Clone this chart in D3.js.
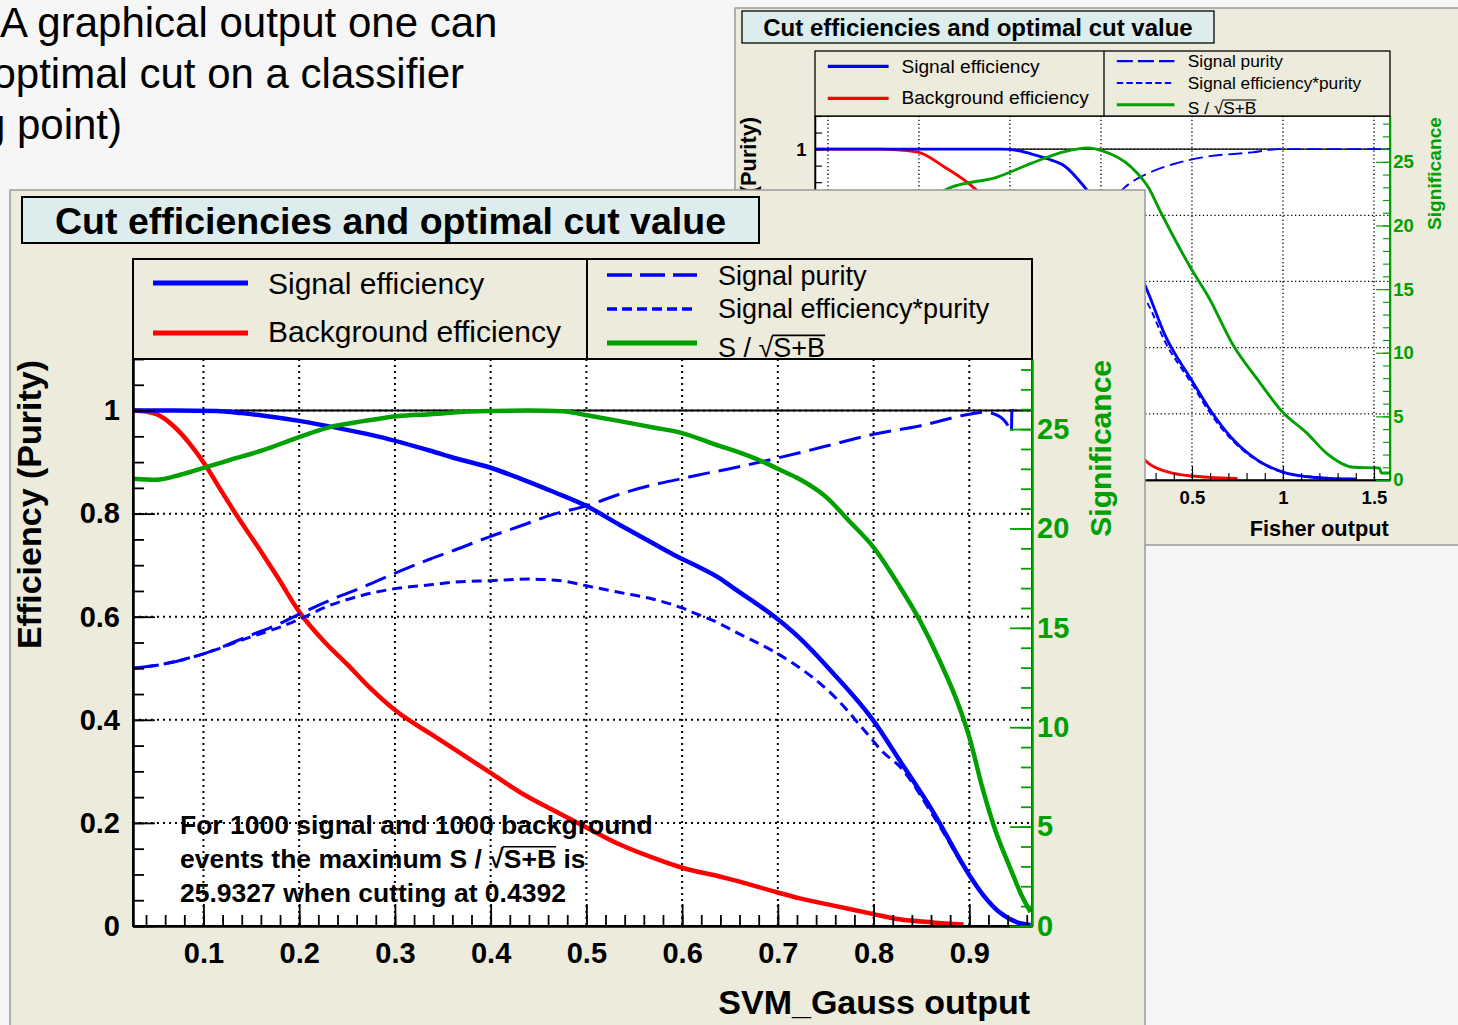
<!DOCTYPE html>
<html>
<head>
<meta charset="utf-8">
<script src="https://cdn.jsdelivr.net/npm/d3@7"></script>
<style>
    html, body { margin: 0; padding: 0; background: #f6f6f6; overflow: hidden; }
    svg { display: block; font-family: "Liberation Sans", Arial, Helvetica, sans-serif; }
</style>
</head>
<body>
<svg id="chart" width="1458" height="1025"></svg>
<script>
// ---- data ----

// slide text, partly cut off on the left
var slideLines = ["A graphical output one can", "optimal cut on a classifier", "(working point)"];

// tick labels
var svmTicks = [0.1, 0.2, 0.3, 0.4, 0.5, 0.6, 0.7, 0.8, 0.9];
var fisherTicks = [-1.5, -1, -0.5, 0, 0.5, 1, 1.5];
var effTicks = [0, 0.2, 0.4, 0.6, 0.8, 1];
var sigTicks = [0, 5, 10, 15, 20, 25];

// front canvas: SVM_Gauss output, [cut, value]
var svmSigEff = [[0.0264, 1.0], [0.07, 1.0], [0.114, 0.999], [0.14, 0.995], [0.163, 0.99], [0.2, 0.98], [0.246, 0.964],
    [0.284, 0.949], [0.337, 0.922], [0.362, 0.908], [0.4, 0.889], [0.431, 0.868], [0.466, 0.842], [0.5, 0.815],
    [0.535, 0.778], [0.57, 0.742], [0.6, 0.712], [0.617, 0.697], [0.639, 0.675], [0.652, 0.658], [0.7, 0.595],
    [0.722, 0.56], [0.757, 0.492], [0.8, 0.398], [0.827, 0.322], [0.862, 0.222], [0.9, 0.099], [0.915, 0.059],
    [0.932, 0.026], [0.95, 0.007], [0.964, 0.002]];
var svmBkgEff = [[0.0264, 1.0], [0.04, 0.998], [0.051, 0.993], [0.0687, 0.97], [0.086, 0.935], [0.1035, 0.89],
    [0.117, 0.849], [0.135, 0.796], [0.156, 0.738], [0.177, 0.678], [0.201, 0.607], [0.225, 0.554], [0.25, 0.508],
    [0.274, 0.462], [0.302, 0.416], [0.337, 0.373], [0.362, 0.343], [0.4, 0.297], [0.431, 0.259], [0.466, 0.224],
    [0.5, 0.191], [0.535, 0.158], [0.57, 0.132], [0.6, 0.113], [0.639, 0.096], [0.652, 0.09], [0.7, 0.065],
    [0.722, 0.054], [0.757, 0.04], [0.8, 0.023], [0.827, 0.013], [0.862, 0.007], [0.894, 0.003]];
var svmPurity = [[0.0264, 0.5], [0.058, 0.508], [0.1, 0.528], [0.145, 0.561], [0.18, 0.587], [0.2, 0.605],
    [0.232, 0.632], [0.267, 0.658], [0.302, 0.686], [0.337, 0.712], [0.362, 0.729], [0.4, 0.756], [0.431, 0.776],
    [0.466, 0.799], [0.5, 0.815], [0.535, 0.838], [0.57, 0.856], [0.6, 0.868], [0.617, 0.875], [0.652, 0.888],
    [0.7, 0.908], [0.757, 0.934], [0.8, 0.954], [0.848, 0.97], [0.9, 0.993], [0.915, 0.997], [0.93, 0.99],
    [0.94, 0.972], [0.944, 0.958], [0.9445, 1.0], [0.951, 1.0]];
var svmEffPurity = [[0.0264, 0.5], [0.058, 0.508], [0.1, 0.528], [0.145, 0.558], [0.18, 0.58], [0.2, 0.595],
    [0.232, 0.622], [0.267, 0.642], [0.302, 0.655], [0.337, 0.662], [0.362, 0.667], [0.4, 0.67], [0.44, 0.673],
    [0.473, 0.67], [0.5, 0.66], [0.535, 0.647], [0.57, 0.634], [0.6, 0.617], [0.617, 0.604], [0.639, 0.587],
    [0.652, 0.574], [0.7, 0.528], [0.722, 0.502], [0.757, 0.449], [0.792, 0.376], [0.81, 0.337], [0.827, 0.31],
    [0.862, 0.215], [0.9, 0.098], [0.915, 0.058], [0.932, 0.025], [0.95, 0.007], [0.964, 0.002]];
// S / sqrt(S+B)
var svmSignificance = [[0.0264, 22.5], [0.051, 22.45], [0.0757, 22.7], [0.1035, 23.1], [0.128, 23.45], [0.163, 23.95],
    [0.197, 24.55], [0.232, 25.1], [0.267, 25.4], [0.302, 25.65], [0.337, 25.75], [0.386, 25.9], [0.4392, 25.93],
    [0.476, 25.9], [0.5, 25.7], [0.535, 25.4], [0.57, 25.08], [0.6, 24.8], [0.639, 24.15], [0.652, 23.95],
    [0.687, 23.3], [0.7, 23.0], [0.722, 22.5], [0.75, 21.6], [0.775, 20.35], [0.8, 19.05], [0.827, 17.1],
    [0.848, 15.4], [0.869, 13.35], [0.89, 10.95], [0.9, 9.5], [0.914, 6.9], [0.928, 4.7], [0.942, 3.0],
    [0.9555, 1.46], [0.964, 0.7]];

// back canvas: Fisher output, [cut, value]
var fisherSigEff = [[-1.571, 1.0], [-0.55, 1.0], [-0.45, 0.995], [-0.38, 0.985], [-0.29, 0.97], [-0.2, 0.949],
    [-0.09, 0.885], [0, 0.82], [0.1, 0.74], [0.2, 0.64], [0.26, 0.565], [0.35, 0.44], [0.5, 0.3], [0.59, 0.22],
    [0.73, 0.12], [0.86, 0.06], [1.0, 0.024], [1.13, 0.01], [1.25, 0.005], [1.4, 0.003]];
var fisherBkgEff = [[-1.571, 1.0], [-1.22, 1.0], [-1.1, 0.997], [-1.0, 0.99], [-0.86, 0.946], [-0.75, 0.906],
    [-0.69, 0.879], [-0.5, 0.78], [-0.3, 0.6], [-0.1, 0.38], [0.1, 0.17], [0.26, 0.051], [0.4, 0.02],
    [0.5, 0.012], [0.6, 0.008], [0.75, 0.005]];
var fisherPurity = [[-1.571, 0.5], [-1.0, 0.53], [-0.5, 0.62], [-0.2, 0.72], [0, 0.8], [0.126, 0.882],
    [0.26, 0.927], [0.4, 0.955], [0.57, 0.976], [0.83, 0.99], [0.98, 1.0], [1.588, 1.0]];
var fisherEffPurity = [[-1.571, 0.5], [-1.0, 0.53], [-0.6, 0.6], [-0.3, 0.66], [-0.1, 0.66], [0.1, 0.64],
    [0.2, 0.58], [0.26, 0.53], [0.35, 0.42], [0.5, 0.29], [0.59, 0.21], [0.73, 0.115], [0.86, 0.058],
    [1.0, 0.023], [1.2, 0.008], [1.4, 0.003]];
var fisherSignificance = [[-1.571, 17.0], [-1.2, 19.5], [-1.0, 21.5], [-0.84, 22.9], [-0.57, 23.8], [-0.38, 24.9],
    [-0.2, 25.8], [-0.07, 26.1], [0, 25.9], [0.165, 24.6], [0.26, 23.0], [0.33, 21.0], [0.5, 16.5], [0.59, 14.4],
    [0.73, 10.5], [0.86, 7.9], [1.0, 5.3], [1.13, 3.7], [1.24, 2.1], [1.39, 1.0], [1.53, 0.94], [1.54, 0.55],
    [1.588, 0.55]];

// ---- look ----
var BLUE = "#0000ff",
    RED = "#ff0000",
    GREEN = "#00a000",
    BEIGE = "#ecebdc",
    TITLEFILL = "#ddecec";

// layouts of the two ROOT canvases (front one is scale 1, back one is shrunk)
var fisherLayout = {
    id: "fisher", s: 0.64,
    canvas: [735, 8, 740, 537],
    title: [742, 11, 472, 32],
    legend: [815, 51, 575, 65],
    divider: 1104,
    plot: [815, 116, 1390, 480],
    xDomain: [-1.571, 1.588],
    xMinorStep: 0.1,
    sigMax: 28.6,
    xTicks: fisherTicks,
    xTitle: "Fisher output",
    note: false
};
var svmLayout = {
    id: "svm", s: 1,
    canvas: [10, 190, 1135, 850],
    title: [22, 197, 737, 46],
    legend: [133, 259, 899, 100],
    divider: 587,
    plot: [133, 359, 1032, 926],
    xDomain: [0.0264, 0.9655],
    xMinorStep: 0.02,
    sigMax: 28.526,
    xTicks: svmTicks,
    xTitle: "SVM_Gauss output",
    note: true
};

window.onload = function()
{
    main();
};

function main()
{
    var svg = d3.select("#chart");

    // slide text behind both canvases
    _drawSlideText(svg);

    // back canvas first so the front one covers it
    _drawCanvas(svg, fisherLayout, {
        eff: fisherSigEff, bkg: fisherBkgEff, pur: fisherPurity, effPur: fisherEffPurity, sig: fisherSignificance
    });
    _drawCanvas(svg, svmLayout, {
        eff: svmSigEff, bkg: svmBkgEff, pur: svmPurity, effPur: svmEffPurity, sig: svmSignificance
    });
}

function _drawSlideText(svg)
{
    var g = svg.append("g")
        .style("font-size", "42px")
        .attr("fill", "#000");

    g.append("text").attr("x", 0).attr("y", 37).text(slideLines[0]);
    g.append("text").attr("x", 464).attr("y", 88).attr("text-anchor", "end").text(slideLines[1]);
    g.append("text").attr("x", 122).attr("y", 139).attr("text-anchor", "end").text(slideLines[2]);
}

// list of positions every `step` between lo and hi (minor ticks)
function _steps(lo, hi, step)
{
    var out = [],
        v;
    for (v = Math.ceil(lo / step - 1e-6); v * step <= hi + 1e-9; v++)
    {
        out.push(+(v * step).toFixed(4));
    }
    return out;
}

// text with a square root whose bar covers `rad`
function _sqrtText(g, x, y, pre, rad, post, size, weight, fill)
{
    var t = g.append("text")
            .attr("x", x)
            .attr("y", y)
            .attr("fill", fill || "#000")
            .style("font-size", size + "px")
            .style("font-weight", weight),
        a = t.append("tspan").text(pre + "\u221A"),
        b = t.append("tspan").text(rad),
        x0, x1;
    t.append("tspan").text(post);

    x0 = x + a.node().getComputedTextLength();
    x1 = x0 + b.node().getComputedTextLength();
    g.append("line")
        .attr("x1", x0 - size * 0.04).attr("x2", x1)
        .attr("y1", y - size * 0.8).attr("y2", y - size * 0.8)
        .attr("stroke", fill || "#000")
        .attr("stroke-width", Math.max(1, size * 0.06));
}

function _drawCanvas(svg, L, S)
{
    var s = L.s,
        p = L.plot,
        g = svg.append("g"),
        x = d3.scaleLinear().domain(L.xDomain).range([p[0], p[2]]),
        y = d3.scaleLinear().domain([0, 1.1]).range([p[3], p[1]]),
        ySig = d3.scaleLinear().domain([0, L.sigMax]).range([p[3], p[1]]),
        tickFont = 29 * s,
        major = 22 * s,
        minor = 11 * s,
        line = d3.line().curve(d3.curveMonotoneX)
            .x(function(d) { return x(d[0]); }).y(function(d) { return y(d[1]); }),
        sigLine = d3.line().curve(d3.curveMonotoneX)
            .x(function(d) { return x(d[0]); }).y(function(d) { return ySig(d[1]); }),
        clipId = "clip-" + L.id,
        legClip = "leg-" + L.id,
        plotG, axG, leg, lg, q, dv;

    // canvas background
    g.append("rect")
        .attr("x", L.canvas[0]).attr("y", L.canvas[1])
        .attr("width", L.canvas[2]).attr("height", L.canvas[3])
        .attr("fill", BEIGE)
        .attr("stroke", "#9a9a9a")
        .attr("stroke-width", 1.5);

    // plot area
    g.append("clipPath").attr("id", clipId)
        .append("rect")
        .attr("x", p[0]).attr("y", p[1])
        .attr("width", p[2] - p[0]).attr("height", p[3] - p[1]);

    g.append("rect")
        .attr("x", p[0]).attr("y", p[1])
        .attr("width", p[2] - p[0]).attr("height", p[3] - p[1])
        .attr("fill", "#fff");

    // dotted grid
    plotG = g.append("g").attr("clip-path", "url(#" + clipId + ")");
    plotG.selectAll("line.gx")
        .data(L.xTicks)
        .enter().append("line")
        .attr("x1", x).attr("x2", x)
        .attr("y1", p[1]).attr("y2", p[3])
        .attr("stroke", "#000")
        .attr("stroke-width", 2 * s)
        .attr("stroke-dasharray", (2 * s) + "," + (4 * s));
    plotG.selectAll("line.gy")
        .data(effTicks.filter(function(d) { return d > 0; }))
        .enter().append("line")
        .attr("x1", p[0]).attr("x2", p[2])
        .attr("y1", y).attr("y2", y)
        .attr("stroke", "#000")
        .attr("stroke-width", 2 * s)
        .attr("stroke-dasharray", (2 * s) + "," + (4 * s));

    // line at efficiency 1
    plotG.append("line")
        .attr("x1", p[0]).attr("x2", p[2])
        .attr("y1", y(1)).attr("y2", y(1))
        .attr("stroke", "#000")
        .attr("stroke-width", 2 * s);

    // curves
    plotG.append("path").datum(S.bkg).attr("d", line)
        .attr("fill", "none").attr("stroke", RED).attr("stroke-width", 4.5 * s);
    plotG.append("path").datum(S.effPur).attr("d", line)
        .attr("fill", "none").attr("stroke", BLUE).attr("stroke-width", 3 * s)
        .attr("stroke-dasharray", (10 * s) + "," + (6 * s));
    plotG.append("path").datum(S.pur).attr("d", line)
        .attr("fill", "none").attr("stroke", BLUE).attr("stroke-width", 3 * s)
        .attr("stroke-dasharray", (22 * s) + "," + (9 * s));
    plotG.append("path").datum(S.eff).attr("d", line)
        .attr("fill", "none").attr("stroke", BLUE).attr("stroke-width", 4.5 * s);
    plotG.append("path").datum(S.sig).attr("d", sigLine)
        .attr("fill", "none").attr("stroke", GREEN).attr("stroke-width", 4.5 * s);

    // frame
    g.append("rect")
        .attr("x", p[0]).attr("y", p[1])
        .attr("width", p[2] - p[0]).attr("height", p[3] - p[1])
        .attr("fill", "none")
        .attr("stroke", "#000")
        .attr("stroke-width", 2 * s);

    // axes: minor ticks, then major ticks with labels
    axG = g.append("g");
    _axis(axG, d3.axisBottom(x).tickValues(_steps(L.xDomain[0], L.xDomain[1], L.xMinorStep)), 0, p[3], minor, 0, null, "#000", s);
    _axis(axG, d3.axisBottom(x).tickValues(L.xTicks), 0, p[3], major, 16.4 * s, tickFont, "#000", s);
    _axis(axG, d3.axisLeft(y).tickValues(_steps(0, 1.1, 0.05)), p[0], 0, minor, 0, null, "#000", s);
    _axis(axG, d3.axisLeft(y).tickValues(effTicks), p[0], 0, major, 13 * s, tickFont, "#000", s);
    _axis(axG, d3.axisRight(ySig).tickValues(_steps(0, L.sigMax, 1)), p[2], 0, minor, 0, null, GREEN, s);
    _axis(axG, d3.axisRight(ySig).tickValues(sigTicks), p[2], 0, major, 5 * s, tickFont, GREEN, s);

    // axis titles
    g.append("text")
        .attr("x", p[2] - 2 * s).attr("y", p[3] + 88 * s)
        .attr("text-anchor", "end")
        .style("font-size", (34 * s) + "px").style("font-weight", "bold")
        .text(L.xTitle);
    g.append("text")
        .attr("transform", "translate(" + (p[0] - 92 * s) + "," + (p[1] + 1) + ") rotate(-90)")
        .attr("text-anchor", "end")
        .style("font-size", (34 * s) + "px").style("font-weight", "bold")
        .text("Efficiency (Purity)");
    g.append("text")
        .attr("transform", "translate(" + (p[2] + 79 * s) + "," + (p[1] + 1) + ") rotate(-90)")
        .attr("text-anchor", "end")
        .attr("fill", GREEN)
        .style("font-size", (30 * s) + "px").style("font-weight", "bold")
        .text("Significance");

    // note on the best cut
    if (L.note)
    {
        q = g.append("g").style("font-weight", "bold");
        q.append("text").attr("x", 180).attr("y", 834)
            .style("font-size", "26.5px")
            .text("For 1000 signal and 1000 background");
        _sqrtText(q, 180, 868, "events the maximum S / ", "S+B", " is", 26.5, "bold");
        q.append("text").attr("x", 180).attr("y", 902)
            .style("font-size", "26.5px")
            .text("25.9327 when cutting at 0.4392");
    }

    // legend box
    lg = L.legend;
    dv = L.divider;
    g.append("clipPath").attr("id", legClip)
        .append("rect")
        .attr("x", lg[0]).attr("y", lg[1]).attr("width", lg[2]).attr("height", lg[3]);
    leg = g.append("g");
    leg.append("rect")
        .attr("x", lg[0]).attr("y", lg[1]).attr("width", lg[2]).attr("height", lg[3])
        .attr("fill", BEIGE);
    var inner = leg.append("g").attr("clip-path", "url(#" + legClip + ")");

    _legendRow(inner, lg[0] + 20 * s, lg[0] + 115 * s, lg[1] + 24 * s, BLUE, null, s);
    _legendRow(inner, lg[0] + 20 * s, lg[0] + 115 * s, lg[1] + 74 * s, RED, null, s);
    inner.append("text").attr("x", lg[0] + 135 * s).attr("y", lg[1] + 34.5 * s)
        .style("font-size", (30 * s) + "px").text("Signal efficiency");
    inner.append("text").attr("x", lg[0] + 135 * s).attr("y", lg[1] + 82.5 * s)
        .style("font-size", (30 * s) + "px").text("Background efficiency");

    _legendRow(inner, dv + 20 * s, dv + 110 * s, lg[1] + 16 * s, BLUE, (25 * s) + "," + (8 * s), s);
    _legendRow(inner, dv + 20 * s, dv + 110 * s, lg[1] + 50 * s, BLUE, (10 * s) + "," + (5 * s), s);
    _legendRow(inner, dv + 20 * s, dv + 110 * s, lg[1] + 84 * s, GREEN, null, s);
    inner.append("text").attr("x", dv + 131 * s).attr("y", lg[1] + 25.5 * s)
        .style("font-size", (27 * s) + "px").text("Signal purity");
    inner.append("text").attr("x", dv + 131 * s).attr("y", lg[1] + 59 * s)
        .style("font-size", (27 * s) + "px").text("Signal efficiency*purity");
    _sqrtText(inner, dv + 131 * s, lg[1] + 98 * s, "S / ", "S+B", "", 27 * s, "normal");

    leg.append("rect")
        .attr("x", lg[0]).attr("y", lg[1]).attr("width", lg[2]).attr("height", lg[3])
        .attr("fill", "none").attr("stroke", "#000").attr("stroke-width", 2 * s);
    leg.append("line")
        .attr("x1", dv).attr("x2", dv).attr("y1", lg[1]).attr("y2", lg[1] + lg[3])
        .attr("stroke", "#000").attr("stroke-width", 2 * s);

    // title box
    g.append("rect")
        .attr("x", L.title[0]).attr("y", L.title[1])
        .attr("width", L.title[2]).attr("height", L.title[3])
        .attr("fill", TITLEFILL)
        .attr("stroke", "#000")
        .attr("stroke-width", 2 * s);
    g.append("text")
        .attr("x", L.title[0] + L.title[2] / 2)
        .attr("y", L.title[1] + L.title[3] / 2)
        .attr("dy", "0.36em")
        .attr("text-anchor", "middle")
        .style("font-size", (37.5 * s) + "px").style("font-weight", "bold")
        .text("Cut efficiencies and optimal cut value");
}

function _legendRow(g, x1, x2, yy, color, dash, s)
{
    var l = g.append("line")
        .attr("x1", x1).attr("x2", x2)
        .attr("y1", yy).attr("y2", yy)
        .attr("stroke", color)
        .attr("stroke-width", 5 * s);
    if (dash) l.attr("stroke-dasharray", dash).attr("stroke-width", 3.5 * s);
}

// ROOT style axis: ticks point into the frame
function _axis(parent, axis, tx, ty, len, pad, font, color, s)
{
    var a = parent.append("g")
        .attr("transform", "translate(" + tx + "," + ty + ")")
        .attr("color", color);

    axis.tickSizeInner(-len).tickSizeOuter(0).tickPadding(pad)
        .tickFormat(font ? function(d) { return String(d); } : function() { return ""; });
    a.call(axis);

    a.attr("font-family", null).attr("font-size", null);
    a.select(".domain").attr("stroke-width", 2 * s);
    a.selectAll(".tick line").attr("stroke-width", 1.8 * s);
    if (font)
    {
        a.selectAll(".tick text")
            .attr("fill", color)
            .style("font-size", font + "px")
            .style("font-weight", "bold");
    }
}
</script>
</body>
</html>
